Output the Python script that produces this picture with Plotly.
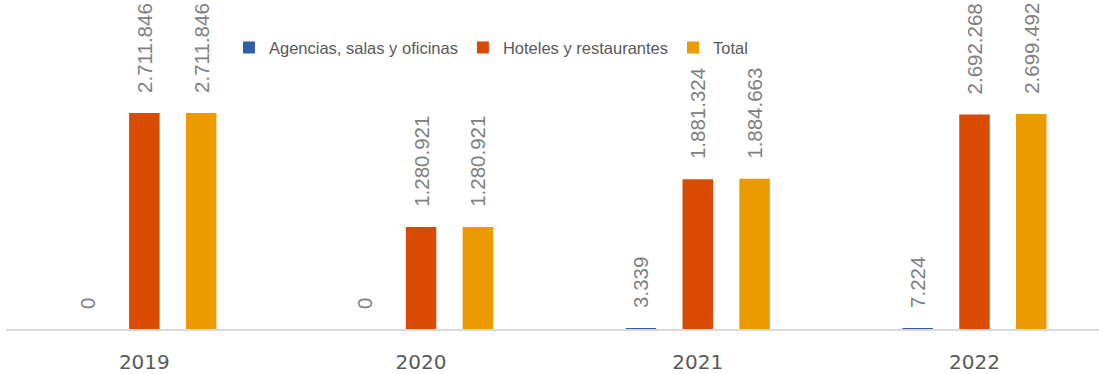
import plotly.graph_objects as go

# Categories and series values
years = ["2019", "2020", "2021", "2022"]
agencias = [0, 0, 3339, 7224]
hoteles = [2711846, 1280921, 1881324, 2692268]
total = [2711846, 1280921, 1884663, 2699492]

series_names = ["Agencias, salas y oficinas", "Hoteles y restaurantes", "Total"]
series_values = [agencias, hoteles, total]
series_colors = ["#2f5fa7", "#d94a03", "#eb9a00"]

LABEL_PAD = "\u00a0\u00a0\u00a0"

fig = go.Figure()
for name, vals, color in zip(series_names, series_values, series_colors):
    fig.add_trace(go.Bar(
        name=name,
        x=years,
        y=vals,
        marker=dict(color=color, line=dict(width=0)),
        texttemplate=LABEL_PAD + "%{y:,.0f}",
        textposition="outside",
        textangle=-90,
        constraintext="none",
        cliponaxis=False,
        textfont=dict(family="Liberation Sans, Arial, sans-serif", size=20.5, color="#808080"),
    ))

fig.update_layout(
    width=1099,
    height=374,
    margin=dict(l=6, r=0, t=0, b=42),
    paper_bgcolor="white",
    plot_bgcolor="white",
    separators=",.",
    barmode="group",
    bargap=0.384,
    bargroupgap=0.463,
    showlegend=True,
    legend=dict(
        orientation="h",
        x=0.204,
        xanchor="left",
        y=0.855,
        yanchor="middle",
        bgcolor="rgba(0,0,0,0)",
        font=dict(family="Liberation Sans, Arial, sans-serif", size=16.5, color="#595959"),
        itemwidth=30,
    ),
    xaxis=dict(
        type="category",
        range=[-0.5, 3.45],
        showline=True,
        linecolor="#d9d9d9",
        linewidth=1.5,
        showgrid=False,
        zeroline=False,
        ticks="",
        ticklabelstandoff=14,
        tickfont=dict(family="DejaVu Sans, sans-serif", size=20, color="#595959"),
    ),
    yaxis=dict(
        range=[0, 4130000],
        showgrid=False,
        zeroline=False,
        showticklabels=False,
        showline=False,
        ticks="",
    ),
)

fig.write_html("out.html")
